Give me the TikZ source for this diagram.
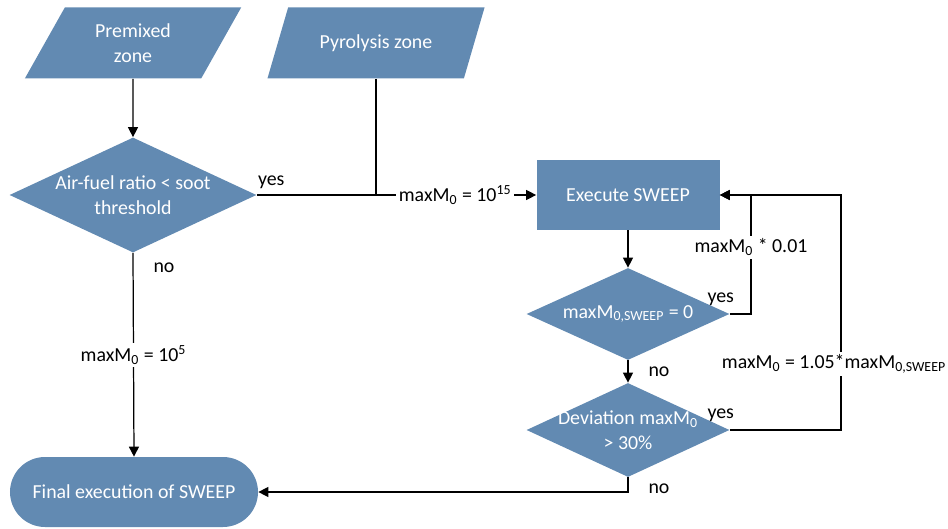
\documentclass[tikz,border=0pt]{standalone}
\usepackage{fontspec}
\setmainfont{Carlito}
\usetikzlibrary{shapes.geometric, arrows.meta, positioning}
\definecolor{boxblue}{RGB}{98,138,178}
\newcommand{\mzero}{maxM\textsubscript{0}}
\newcommand{\drawdecision}[5]{
	\node[decision, minimum width=#3, minimum height=#4] (#1) at (#2) {};
	\node[boxtext] (#1-text) at (#1) {#5};
}

\begin{document}
\begin{tikzpicture}[
		font=\fontsize{11.3}{14}\selectfont,
		box/.style={fill=boxblue, draw=none, text=white, align=center},
		zone/.style={box, trapezium, trapezium left angle=63, trapezium right angle=117,
			trapezium stretches=true, minimum width=4.36cm, minimum height=1.42cm},
		decision/.style={fill=boxblue, diamond, inner sep=0pt},
		boxtext/.style={text=white, align=center, inner sep=0pt},
		flow/.style={-{Triangle[length=2mm, width=2mm]}, line width=0.7pt},
		plain/.style={line width=0.7pt},
		tag/.style={fill=white, inner sep=1.5pt}]
		\useasboundingbox (0,0) rectangle (18.96,10.56);

		%% left column
		\node[zone] (premixed) at (2.66, 9.70) {Premixed\\zone};
		\node[zone] (pyrolysis) at (7.52, 9.70) {Pyrolysis zone};
		\drawdecision{soot}{2.66, 6.66}{4.94cm}{2.3cm}{Air-fuel ratio < soot\\threshold}
		\node[box, rounded corners=0.7cm, minimum width=4.96cm, minimum height=1.4cm]
			(final) at (2.68, 0.72) {Final execution of SWEEP};

		%% right column
		\node[box, minimum width=3.66cm, minimum height=1.4cm] (execute) at (12.56, 6.66) {Execute SWEEP};
		\drawdecision{zero}{12.56, 4.28}{4.06cm}{1.84cm}{maxM\textsubscript{0,SWEEP} = 0}
		\drawdecision{deviation}{12.56, 1.96}{4.06cm}{1.88cm}{Deviation \mzero\\> 30\%}

		% loop lines
		\coordinate (loopA) at (15.02, 0);
		\coordinate (loopB) at (16.82, 0);

		% connectors
		\draw[flow] (premixed) -- (soot);
		\draw[plain] (pyrolysis.south) -- (pyrolysis.south |- soot.east);
		\draw[flow] (soot.east) node[above right=0pt and -3pt] {yes}
			-- node[tag, pos=0.71] {\mzero{} = 10\textsuperscript{15}} (execute.west);
		\draw[flow] (soot.south) node[below right=2pt and 8pt] {no}
			-- node[tag] {\mzero{} = 10\textsuperscript{5}} (final.north);
		\draw[flow] (execute) -- (zero);
		\draw[flow] (zero.south) node[below right=0pt and 8pt] {no} -- (deviation.north);
		\draw[flow] (zero.east) node[above left=1pt and -6pt] {yes}
			-- (zero.east -| loopA)
			-- node[tag, pos=0.56] {\mzero{} * 0.01} (execute.east -| loopA)
			-- (execute.east);
		\draw[flow] (deviation.east) node[above left=1pt and -6pt] {yes}
			-- (deviation.east -| loopB)
			-- node[tag, pos=0.28, xshift=-0.14cm] {\mzero{} = 1.05*maxM\textsubscript{0,SWEEP}} (execute.east -| loopB)
			-- (execute.east);
		\draw[flow] (deviation.south) node[below right=0pt and 8pt] {no} |- (final.east);
	\end{tikzpicture}
\end{document}
